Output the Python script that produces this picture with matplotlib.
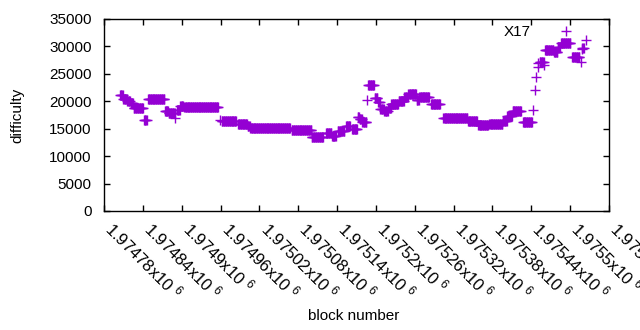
import matplotlib
matplotlib.use('Agg')
import matplotlib.pyplot as plt

run_start = [1974805, 1974810, 1974816, 1974821, 1974826, 1974842, 1974848, 1974874,
             1974880, 1974890, 1974893, 1974898, 1974904, 1974959, 1974962, 1974987,
             1975002, 1975006, 1975070, 1975101, 1975123, 1975132, 1975141, 1975154,
             1975163, 1975172, 1975175, 1975179, 1975186, 1975188, 1975198, 1975203,
             1975207, 1975213, 1975219, 1975224, 1975235, 1975244, 1975250, 1975263,
             1975267, 1975285, 1975304, 1975342, 1975358, 1975375, 1975396, 1975403,
             1975411, 1975427, 1975443, 1975446, 1975448, 1975450, 1975451, 1975453,
             1975460, 1975461, 1975475, 1975481, 1975486, 1975503, 1975516, 1975518,
             1975519, 1975524]
run_end = [1974809, 1974815, 1974820, 1974825, 1974840, 1974846, 1974873, 1974879,
           1974889, 1974890, 1974897, 1974902, 1974956, 1974959, 1974984, 1975001,
           1975005, 1975067, 1975100, 1975118, 1975131, 1975138, 1975151, 1975160,
           1975171, 1975174, 1975178, 1975185, 1975186, 1975197, 1975202, 1975206,
           1975212, 1975218, 1975223, 1975234, 1975243, 1975249, 1975262, 1975266,
           1975282, 1975299, 1975341, 1975356, 1975373, 1975395, 1975402, 1975410,
           1975424, 1975441, 1975443, 1975446, 1975448, 1975450, 1975451, 1975459,
           1975460, 1975474, 1975480, 1975484, 1975500, 1975514, 1975516, 1975518,
           1975521, 1975524]
run_diff = [21100, 20500, 20050, 19600, 18750, 16600, 20350, 18300,
            17850, 16900, 18400, 19050, 18900, 16600, 16350, 15950,
            15500, 15040, 14700, 13550, 14300, 13600, 14500, 15500,
            14950, 17200, 16800, 16300, 20200, 22970, 20600, 19850,
            18600, 18200, 18750, 19500, 20050, 20700, 21240, 20250,
            20870, 19450, 16900, 16350, 15680, 15860, 16400, 17300,
            18140, 16300, 18400, 22060, 24430, 26160, 27030, 27250,
            26600, 29440, 29000, 29900, 30540, 28040, 27160, 29620,
            29800, 31170]

xticks = [1974780, 1974840, 1974900, 1974960, 1975020, 1975080, 1975140,
          1975200, 1975260, 1975320, 1975380, 1975440, 1975500, 1975560]
xtick_labels = ['1.97478x10 $^{6}$', '1.97484x10 $^{6}$', '1.9749x10 $^{6}$',
                '1.97496x10 $^{6}$', '1.97502x10 $^{6}$', '1.97508x10 $^{6}$',
                '1.97514x10 $^{6}$', '1.9752x10 $^{6}$', '1.97526x10 $^{6}$',
                '1.97532x10 $^{6}$', '1.97538x10 $^{6}$', '1.97544x10 $^{6}$',
                '1.9755x10 $^{6}$', '1.97556x10 $^{6}$']
yticks = [0, 5000, 10000, 15000, 20000, 25000, 30000, 35000]

blocks = []
diffs = []
for s, e, d in zip(run_start, run_end, run_diff):
    for b in range(s, e + 1):
        blocks.append(b)
        diffs.append(d)

plt.rcParams['font.family'] = ['Liberation Sans', 'DejaVu Sans']
plt.rcParams['mathtext.fontset'] = 'custom'
plt.rcParams['mathtext.rm'] = 'Liberation Sans'
plt.rcParams['mathtext.it'] = 'Liberation Sans:italic'

FS = 11

fig = plt.figure(figsize=(6.4, 3.3), dpi=100)
ax = fig.add_axes([104 / 640, 1 - 211 / 330, 505 / 640, 192 / 330])

ax.plot(blocks, diffs, linestyle='none', marker='+', color='#9400d3',
        markersize=6.5, markeredgewidth=1.0, label='X17')

ax.set_xlim(1974780, 1975560)
ax.set_ylim(0, 35000)
ax.set_xticks(xticks)
ax.set_xticklabels(xtick_labels, rotation=-45, ha='left', va='baseline',
                   rotation_mode='anchor', fontsize=12)
ax.set_yticks(yticks)
ax.set_yticklabels([str(v) for v in yticks], fontsize=FS)
ax.tick_params(direction='in', length=4, width=1, top=True, right=True)
ax.tick_params(axis='y', pad=9)
ax.tick_params(axis='x', pad=14)
for sp in ax.spines.values():
    sp.set_linewidth(1)

fig.text(17 / 640, 1 - 115 / 330, 'difficulty', rotation=90,
         ha='center', va='center', fontsize=FS)
fig.text(354 / 640, 1 - 316 / 330, 'block number', ha='center', va='center',
         fontsize=FS)

ax.legend(loc='center right', bbox_to_anchor=(589 / 640, 1 - 32 / 330),
          bbox_transform=fig.transFigure, frameon=False, markerfirst=False,
          numpoints=1, handlelength=3.0, handletextpad=0.8, borderpad=0,
          borderaxespad=0, fontsize=FS)

fig.savefig('out.png', dpi=100)
